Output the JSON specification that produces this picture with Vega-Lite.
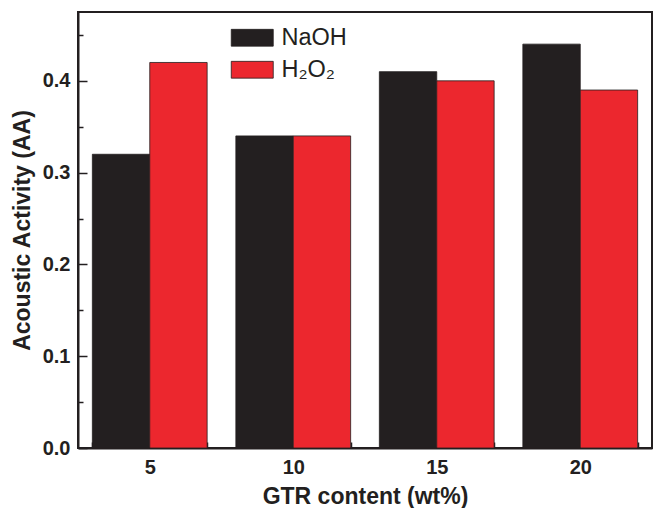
{
  "$schema": "https://vega.github.io/schema/vega-lite/v6.json",
  "width": 574,
  "height": 436,
  "autosize": {"type": "none"},
  "padding": {"left": 78, "top": 12, "right": 1, "bottom": 60},
  "background": "white",
  "config": {
    "font": "Liberation Sans",
    "view": {"stroke": "#231f20", "strokeWidth": 2}
  },
  "data": {
    "values": [
      {"content": "5", "treatment": "NaOH", "aa": 0.32},
      {"content": "5", "treatment": "H₂O₂", "aa": 0.42},
      {"content": "10", "treatment": "NaOH", "aa": 0.34},
      {"content": "10", "treatment": "H₂O₂", "aa": 0.34},
      {"content": "15", "treatment": "NaOH", "aa": 0.41},
      {"content": "15", "treatment": "H₂O₂", "aa": 0.40},
      {"content": "20", "treatment": "NaOH", "aa": 0.44},
      {"content": "20", "treatment": "H₂O₂", "aa": 0.39}
    ]
  },
  "mark": {"type": "bar", "stroke": "#231f20", "strokeWidth": 0.8},
  "encoding": {
    "x": {
      "field": "content",
      "type": "ordinal",
      "sort": ["5", "10", "15", "20"],
      "scale": {"paddingInner": 0.2, "paddingOuter": 0.1},
      "axis": {
        "title": "GTR content (wt%)",
        "titleFontSize": 23,
        "titleFontWeight": "bold",
        "titleColor": "#231f20",
        "titlePadding": 8,
        "labelAngle": 0,
        "labelFontSize": 20,
        "labelFontWeight": "bold",
        "labelColor": "#231f20",
        "labelPadding": 15,
        "domainColor": "#231f20",
        "domainWidth": 2,
        "tickColor": "#231f20",
        "tickWidth": 1.5,
        "tickSize": -6,
        "tickBand": "extent"
      }
    },
    "xOffset": {"field": "treatment", "sort": ["NaOH", "H₂O₂"]},
    "y": {
      "field": "aa",
      "type": "quantitative",
      "scale": {"domain": [0, 0.475], "nice": false},
      "axis": {
        "title": "Acoustic Activity (AA)",
        "titleFontSize": 23,
        "titleFontWeight": "bold",
        "titleColor": "#231f20",
        "titlePadding": 8,
        "values": [0, 0.05, 0.1, 0.15, 0.2, 0.25, 0.3, 0.35, 0.4, 0.45],
        "labelExpr": "(round(datum.value*100) % 10 == 0) ? format(datum.value, '.1f') : ''",
        "labelFontSize": 20,
        "labelFontWeight": "bold",
        "labelColor": "#231f20",
        "labelPadding": 17,
        "domainColor": "#231f20",
        "domainWidth": 2,
        "tickColor": "#231f20",
        "tickWidth": 1.5,
        "tickSize": {"condition": {"test": "round(datum.value*100) % 10 == 0", "value": -9}, "value": -5},
        "grid": false
      }
    },
    "color": {
      "field": "treatment",
      "type": "nominal",
      "sort": ["NaOH", "H₂O₂"],
      "scale": {"domain": ["NaOH", "H₂O₂"], "range": ["#231f20", "#ec272e"]},
      "legend": {
        "title": null,
        "orient": "none",
        "legendX": 162.5,
        "legendY": 14,
        "symbolType": "M-2,-0.8H2V0.8H-2Z",
        "symbolSize": 441,
        "symbolStrokeColor": "#231f20",
        "symbolStrokeWidth": 0.8,
        "symbolOpacity": 1,
        "labelFontSize": 23.5,
        "labelColor": "#231f20",
        "labelOffset": 17.5,
        "rowPadding": 7
      }
    }
  }
}
